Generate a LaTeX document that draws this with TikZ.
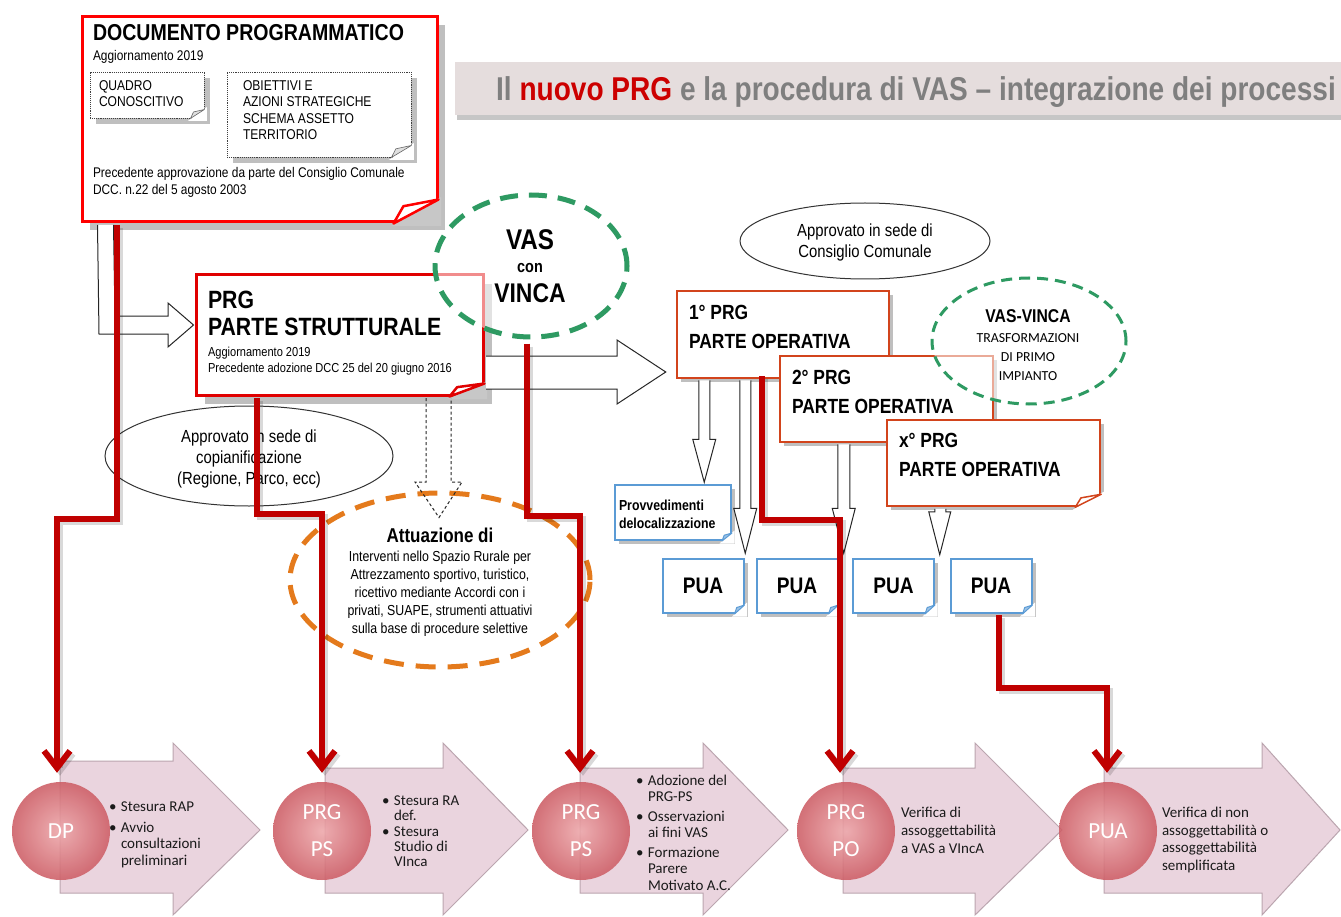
\documentclass[tikz,border=0pt]{standalone}
\usepackage{fontspec}
\setmainfont{Liberation Sans}
\newfontfamily\nar{Liberation Sans}[FakeStretch=0.85]
\newfontfamily\calb{Carlito}
\usetikzlibrary{shapes.geometric,calc,shadows,arrows.meta}
\definecolor{redc}{HTML}{C00000}
\definecolor{brightred}{HTML}{FF0000}
\definecolor{psred}{HTML}{E00000}
\definecolor{opred}{HTML}{D2441C}
\definecolor{puablue}{HTML}{5B9BD5}
\definecolor{vasgreen}{HTML}{2E9A62}
\definecolor{attorange}{HTML}{E47A1C}
\definecolor{bannerfill}{HTML}{E5DDDD}
\definecolor{titlegray}{HTML}{7F7F7F}
\definecolor{titlered}{HTML}{CC0000}
\definecolor{arrfill}{HTML}{EAD4DE}
\definecolor{arrdraw}{HTML}{BBA5AF}
\definecolor{circin}{HTML}{EDA7AA}
\definecolor{circout}{HTML}{CD5D65}
\definecolor{btext}{HTML}{1A1A1A}
\newcommand\fs[2]{\fontsize{#1}{#2}\selectfont}
\newcommand\bul{\makebox[12pt][l]{•}}
\newcommand\ind{\hspace*{12pt}}
% folded corner: node, sx, sy, flap style, cover colour
\newcommand\curl[5]{%
  \fill[#5] ($(#1.south east)+(2.5,2.5)$) -- ($(#1.south east)+(-#2-2.5,2.5)$) -- ($(#1.south east)+(2.5,-#3-2.5)$) -- cycle;
  \draw[#4, line join=round] ($(#1.south east)+(-#2,0)$) -- ($(#1.south east)+(0,-#3)$) -- ($(#1.south east)+(-0.78*#2,-0.72*#3)$) -- cycle;
}
\newcommand\bigarr[5]{% left, headbase, tip, bodytop, bodybottom
  \draw[barr] (#1,#4) -- (#2,#4) -- (#2,743) -- (#3,830) -- (#2,915) -- (#2,#5) -- (#1,#5) -- cycle;
}
\begin{document}
\begin{tikzpicture}[x=1pt,y=-1pt,
  txt/.style={inner sep=0pt, outer sep=0pt, anchor=north west, align=left},
  ctxt/.style={inner sep=0pt, outer sep=0pt, align=center},
  shad/.style={drop shadow={shadow xshift=#1, shadow yshift=-#1, fill=black!25, opacity=1}},
  hollow/.style={draw=black!85, line width=1pt, fill=white, line join=miter},
  redconn/.style={draw=redc, line width=6pt, -{Straight Barb[length=17pt,width=26pt]},
    preaction={draw=black, draw opacity=0.15, line width=6pt, transform canvas={xshift=3pt, yshift=-3pt}}},
  opbox/.style={draw=opred, line width=2.5pt, fill=white, inner sep=0, minimum width=213pt, minimum height=86pt, shad=4pt},
  puabox/.style={draw=puablue, line width=2pt, fill=white, inner sep=0, minimum width=81pt, minimum height=54pt, shad=4pt, font=\nar\bfseries\fs{22.5}{24}},
  barr/.style={fill=arrfill, draw=arrdraw, line width=1pt},
  circ/.style={circle, minimum size=98pt, inner sep=0, inner color=circin, outer color=circout, opacity=0.88, text opacity=1, text=white, font=\calb\fs{23}{37}, align=center},
  btxt/.style={txt, font=\calb\fs{15}{16.5}, text=btext},
  dotbox/.style={draw=black!75, densely dotted, line width=0.9pt, fill=white, inner sep=0, shad=6pt},
]
\useasboundingbox (0,0) rectangle (1341,917);
\fill[white] (0,0) rectangle (1341,917);

% ---------- title banner
\node[fill=bannerfill, minimum width=886pt, minimum height=53pt, inner sep=0, anchor=north west,
  drop shadow={shadow xshift=2pt, shadow yshift=-5pt, fill=black!28, opacity=0.8}] (banner) at (455,62) {};
\node[inner sep=0, anchor=base east, font=\nar\bfseries\fs{33}{36}, text=titlegray] (title) at (1336,101)
  {Il \textcolor{titlered}{nuovo PRG} e la procedura di VAS – integrazione dei processi};

% ---------- Documento programmatico
\node[draw=brightred, line width=3pt, fill=white, minimum width=355pt, minimum height=205pt, inner sep=0, shad=8pt] (dpbox) at (259.5,119.5) {};
\curl{dpbox}{45}{24}{draw=brightred, line width=2.5pt, fill=white}{black!22}
\node[txt, font=\nar\bfseries\fs{23}{26}] (dptitle) at (93,24) {DOCUMENTO PROGRAMMATICO};
\node[txt, font=\nar\fs{14}{16}] (dpagg) at (93,50) {Aggiornamento 2019};
\node[dotbox, minimum width=114pt, minimum height=46pt] (quadro) at (147,95) {};
\curl{quadro}{14}{9}{draw=black!60, line width=0.6pt, fill=black!12}{white}
\node[dotbox, minimum width=184pt, minimum height=85pt] (obiet) at (319,114.5) {};
\curl{obiet}{20}{12}{draw=black!60, line width=0.6pt, fill=black!12}{white}
\node[txt, font=\nar\fs{14.2}{16.3}] (qtext) at (99,80.5) {QUADRO\\CONOSCITIVO};
\node[txt, font=\nar\fs{14.2}{16.3}] (otext) at (243,80.5) {OBIETTIVI E\\AZIONI STRATEGICHE\\SCHEMA ASSETTO\\TERRITORIO};
\node[txt, font=\nar\fs{14}{17}] (dpprec) at (93,167.5) {Precedente approvazione da parte del Consiglio Comunale\\DCC. n.22 del 5 agosto 2003};

% ---------- PRG parte strutturale
\node[draw=psred, line width=3pt, fill=white, minimum width=287pt, minimum height=120pt, inner sep=0, shad=9pt] (prgps) at (339.5,335) {};
\curl{prgps}{35}{13}{draw=psred, line width=2.5pt, fill=white}{black!22}
\node[txt, font=\nar\bfseries\fs{25}{27}] (pstitle) at (208,291) {PRG\\PARTE STRUTTURALE};
\node[txt, font=\nar\fs{13}{16}] (pssub) at (208,347) {Aggiornamento 2019\\Precedente adozione DCC 25 del 20 giugno 2016};

% hollow arrow DP -> PRG PS
\draw[hollow] ($(dpbox.south west)+(17,1.5)$) -- (99,334) -- (168,334) -- (168,347) -- ($(prgps.west)+(-1,-10)$)
  -- (168,303) -- (168,316) -- (115,316) -- ($(dpbox.south west)+(33,1.5)$);

% ---------- VAS con VINCA
\node[ellipse, draw=vasgreen, line width=5pt, dash pattern=on 18pt off 11pt, fill=white, fill opacity=0.55,
  minimum width=192pt, minimum height=142pt, inner sep=0] (vas) at (531,266) {};
\node[ctxt, font=\nar\bfseries\fs{28.5}{30}] (vast1) at (530,240) {VAS};
\node[ctxt, font=\nar\bfseries\fs{17}{18}] (vast2) at (530,268) {con};
\node[ctxt, font=\nar\bfseries\fs{27}{30}] (vast3) at (530,293) {VINCA};

% ---------- copianificazione ellipse
\node[ellipse, draw=black!80, line width=1pt, fill=white, minimum width=288pt, minimum height=100pt, inner sep=0] (copi) at (249,456) {};
\node[ctxt, font=\nar\fs{17.5}{21}] (copit) at (249,459) {Approvato in sede di\\copianificazione\\(Regione, Parco, ecc)};

% ---------- Attuazione ellipse
\node[ellipse, draw=attorange, line width=5pt, dash pattern=on 20pt off 12pt, fill=white, minimum width=300pt, minimum height=174pt, inner sep=0] (attu) at (440,580) {};
\node[ctxt, font=\nar\bfseries\fs{20}{22}] (attut) at (440,535) {Attuazione di};
\node[ctxt, font=\nar\fs{14.5}{18}] (attub) at (440,594) {Interventi nello Spazio Rurale per\\Attrezzamento sportivo, turistico,\\ricettivo mediante Accordi con i\\privati, SUAPE, strumenti attuativi\\sulla base di procedure selettive};

% dashed hollow arrow PRG PS -> Attuazione
\draw[hollow, fill=none, dash pattern=on 3pt off 2.5pt] ($(prgps.south)+(86.5,1.5)$) -- (426,482) -- (415,482) -- ($(attu.north)+(-1,27)$)
  -- (462,482) -- (451,482) -- ($(prgps.south)+(111.5,1.5)$);

% ---------- Consiglio comunale ellipse
\node[ellipse, draw=black!80, line width=1pt, fill=white, minimum width=250pt, minimum height=76pt, inner sep=0] (cons) at (865,241) {};
\node[ctxt, font=\nar\fs{17.5}{21}] (const) at (865,242) {Approvato in sede di\\Consiglio Comunale};

% ---------- PRG parte operativa boxes
\node[opbox, minimum width=212pt, minimum height=87pt] (prg1) at (783,334.5) {};
\node[txt, font=\nar\bfseries\fs{20.5}{29}] (prg1t) at (689,305.5) {1° PRG\\PARTE OPERATIVA};
\node[opbox] (prg2) at (886.5,399) {};
\node[txt, font=\nar\bfseries\fs{20.5}{29}] (prg2t) at (792,370.5) {2° PRG\\PARTE OPERATIVA};
\node[opbox] (prgx) at (993.5,463) {};
\curl{prgx}{26}{13}{draw=opred, line width=1.5pt, fill=white}{white}
\node[txt, font=\nar\bfseries\fs{20.5}{29}] (prgxt) at (899,433.5) {x° PRG\\PARTE OPERATIVA};

% big hollow arrow PRG PS -> 1° PRG
\draw[hollow] ($(prgps.east)+(1.5,21)$) -- (617,356) -- (617,340) -- ($(prg1.west)+(-10,37.5)$) -- (617,404) -- (617,389) -- ($(prgps.east)+(1.5,54)$);

% ---------- VAS-VINCA ellipse
\node[ellipse, draw=vasgreen, line width=3pt, dash pattern=on 11pt off 7pt, fill=white, fill opacity=0.55,
  minimum width=194pt, minimum height=126pt, inner sep=0] (vv) at (1029,341) {};
\node[ctxt, font=\nar\bfseries\fs{18.5}{20}] (vvt1) at (1028,316) {VAS-VINCA};
\node[ctxt, font=\calb\fs{13.8}{19}] (vvt2) at (1028,357) {TRASFORMAZIONI\\DI PRIMO\\IMPIANTO};

% ---------- Provvedimenti and PUA
\node[draw=puablue, line width=2pt, fill=white, minimum width=116pt, minimum height=55pt, inner sep=0, shad=4pt] (prov) at (673,512.5) {};
\curl{prov}{10}{8}{draw=puablue, line width=1pt, fill=puablue!60}{white}
\node[txt, font=\nar\bfseries\fs{14.5}{18}] (provt) at (619,499.5) {Provvedimenti\\delocalizzazione};
\node[puabox] (pua1) at (703,586) {PUA};
\node[puabox] (pua2) at (797,586) {PUA};
\node[puabox] (pua3) at (893.5,586) {PUA};
\node[puabox] (pua4) at (991,586) {PUA};
\curl{pua1}{10}{9}{draw=puablue, line width=1pt, fill=puablue!60}{white}
\curl{pua2}{10}{9}{draw=puablue, line width=1pt, fill=puablue!60}{white}
\curl{pua3}{10}{9}{draw=puablue, line width=1pt, fill=puablue!60}{white}
\curl{pua4}{10}{9}{draw=puablue, line width=1pt, fill=puablue!60}{white}

% hollow down arrows
\draw[hollow] ($(prg1.south west)+(23,1)$) -- ++(0,59) -- ++(-6,0) -- ++(11.5,43) -- ++(11.5,-43) -- ++(-6,0) -- ++(0,-59);
\draw[hollow] ($(prg1.south west)+(64,1)$) -- ++(0,128) -- ++(-6,0) -- ++(11.5,45) -- ++(11.5,-45) -- ++(-6,0) -- ++(0,-128);
\draw[hollow] ($(prg2.south west)+(59,1)$) -- ++(0,64) -- ++(-5.5,0) -- ++(11.5,45) -- ++(11.5,-45) -- ++(-5.5,0) -- ++(0,-64);
\draw[hollow] ($(prgx.south west)+(49,1.5)$) -- ++(0,3) -- ++(-6,0) -- ++(11,43) -- ++(11,-43) -- ++(-5,0) -- ++(0,-3);

% ---------- bottom process arrows
\bigarr{60}{173}{260}{761}{893}
\bigarr{325}{443}{528}{768}{893}
\bigarr{580}{703}{788}{768}{893}
\bigarr{843}{975}{1062}{768}{893}
\bigarr{1104}{1262}{1340}{768}{893}

\node[circ] (c1) at (61,831) {DP};
\node[circ] (c2) at (322,831) {PRG\\PS};
\node[circ] (c3) at (581,831) {PRG\\PS};
\node[circ] (c4) at (846,831) {PRG\\PO};
\node[circ] (c5) at (1108,831) {PUA};

\node[btxt] (g1t) at (109,802) {\bul Stesura RAP\\[4pt]\bul Avvio\\\ind consultazioni\\\ind preliminari};
\node[btxt, font=\calb\fs{15}{15}] (g2t) at (382,795.5) {\bul Stesura RA\\\ind def.\\[1.5pt]\bul Stesura\\\ind Studio di\\\ind VInca};
\node[btxt] (g3t) at (636,775) {\bul Adozione del\\\ind PRG-PS\\[3pt]\bul Osservazioni\\\ind ai fini VAS\\[3pt]\bul Formazione\\\ind Parere\\\ind Motivato A.C.};
\node[btxt, font=\calb\fs{15}{18}] (g4t) at (901,807) {Verifica di\\assoggettabilità\\a VAS a VIncA};
\node[btxt, font=\calb\fs{15}{17.7}] (g5t) at (1162,807) {Verifica di non\\assoggettabilità o\\assoggettabilità\\semplificata};

% ---------- red connectors
\draw[redconn] ($(dpbox.south west)+(36,1.5)$) |- ($(c1.north)+(-4,-263)$) -- ($(c1.north)+(-4,-9)$);
\draw[redconn] ($(prgps.south west)+(62,1.5)$) |- ($(c2.north)+(0,-268)$) -- ($(c2.north)+(0,-9)$);
\draw[redconn] ($(vas.south)+(-4,4)$) |- ($(c3.north)+(-1,-266)$) -- ($(c3.north)+(-1,-9)$);
\draw[redconn] ($(prg1.south west)+(86,-3)$) |- ($(c4.north)+(-6,-262)$) -- ($(c4.north)+(-6,-9)$);
\draw[redconn] ($(pua4.south)+(8,1)$) |- ($(c5.north)+(-1,-94)$) -- ($(c5.north)+(-1,-9)$);
\end{tikzpicture}
\end{document}
